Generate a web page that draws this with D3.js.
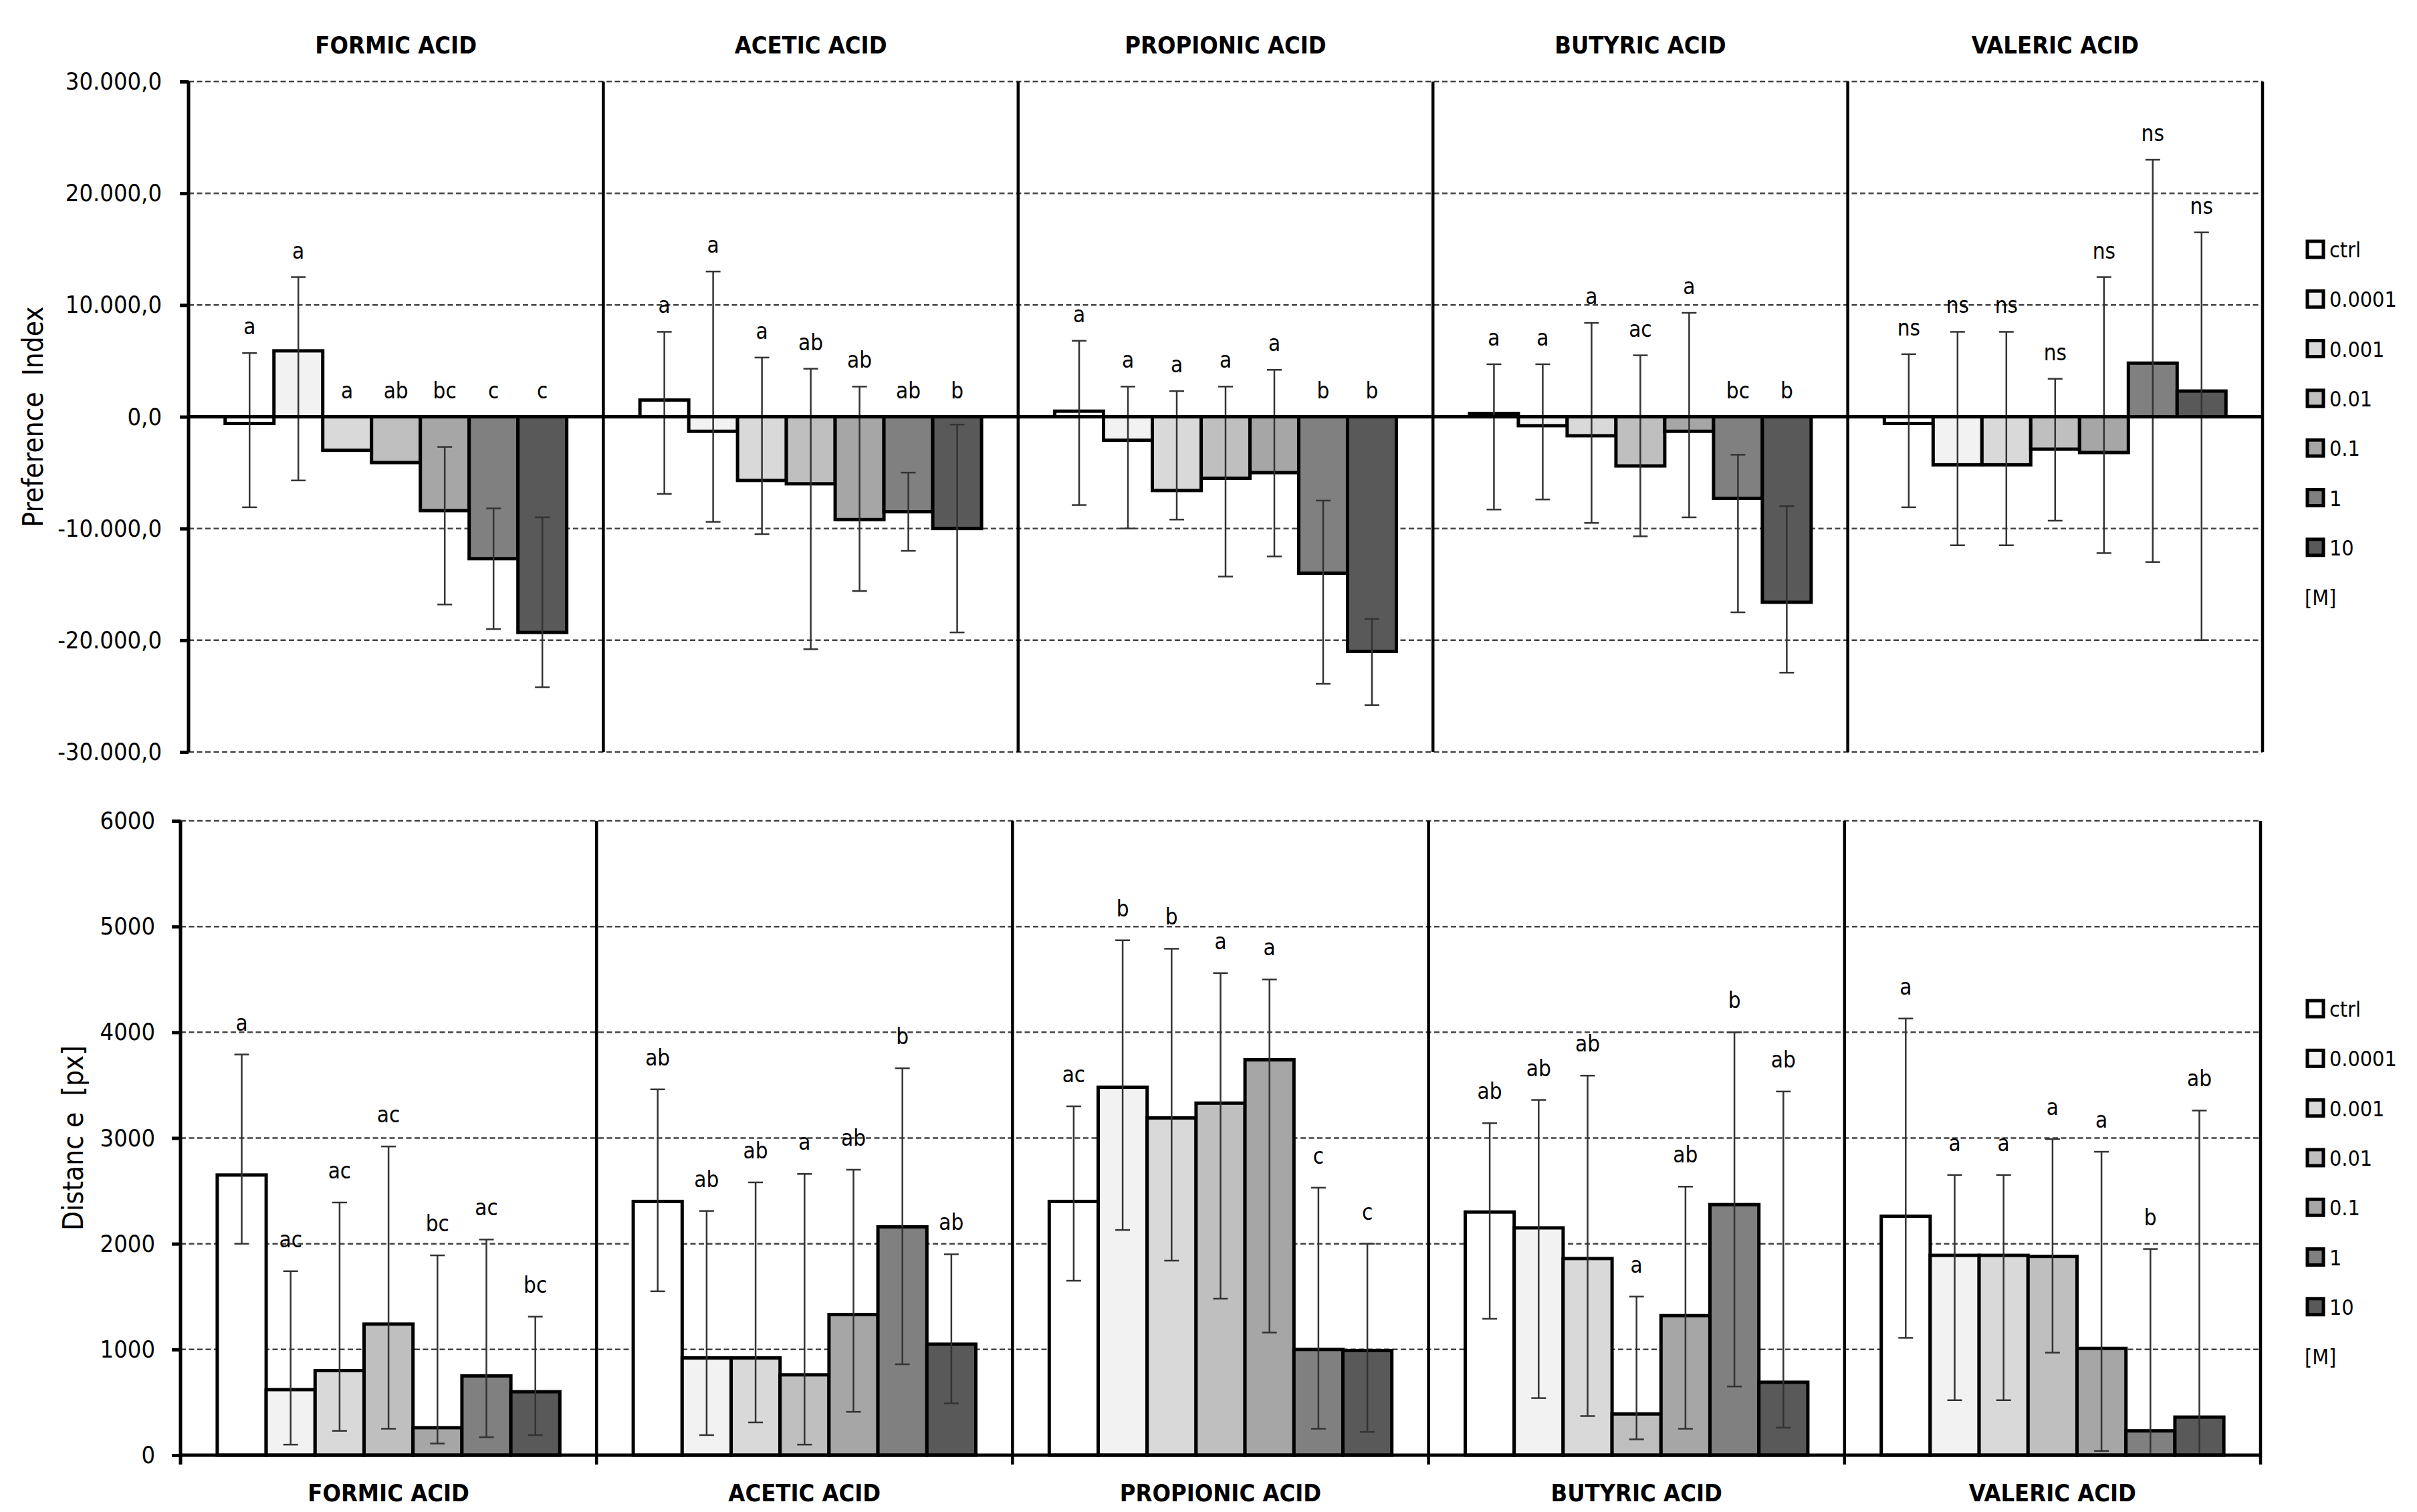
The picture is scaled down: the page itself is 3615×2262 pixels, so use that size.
<!DOCTYPE html>
<html>
<head>
<meta charset="utf-8">
<script src="https://cdn.jsdelivr.net/npm/d3@7"></script>
<style>
body { margin: 0; background: #fff; }
text { font-family: 'DejaVu Sans Condensed', 'DejaVu Sans', sans-serif; fill: #000; }
</style>
</head>
<body>
<svg id="chart" width="3615" height="2262"></svg>
<script>
const acids = ["FORMIC ACID", "ACETIC ACID", "PROPIONIC ACID", "BUTYRIC ACID", "VALERIC ACID"];
const concs = ["ctrl", "0.0001", "0.001", "0.01", "0.1", "1", "10"];
const fills = ["#ffffff", "#f2f2f2", "#d9d9d9", "#bfbfbf", "#a6a6a6", "#808080", "#595959"];

// preference index (top chart), one row per acid, one value per concentration
const prefMean = [
	[-600, 5900, -3000, -4100, -8400, -12700, -19300],
	[1500, -1300, -5700, -6000, -9200, -8500, -10000],
	[500, -2100, -6600, -5500, -5000, -14000, -21000],
	[300, -800, -1700, -4400, -1300, -7300, -16600],
	[-600, -4300, -4300, -2900, -3200, 4800, 2300]
];
const prefHi = [
	[5700, 12500, null, null, -2700, -8200, -9000],
	[7600, 13000, 5300, 4300, 2700, -5000, -700],
	[6800, 2700, 2300, 2700, 4200, -7500, -18100],
	[4700, 4700, 8400, 5500, 9300, -3400, -8000],
	[5600, 7600, 7600, 3400, 12500, 23000, 16500]
];
const prefLo = [
	[-8100, -5700, null, null, -16800, -19000, -24200],
	[-6900, -9400, -10500, -20800, -15600, -12000, -19300],
	[-7900, -10000, -9200, -14300, -12500, -23900, -25800],
	[-8300, -7400, -9500, -10700, -9000, -17500, -22900],
	[-8100, -11500, -11500, -9300, -12200, -13000, -20000]
];
const prefSig = [
	["a", "a", "a", "ab", "bc", "c", "c"],
	["a", "a", "a", "ab", "ab", "ab", "b"],
	["a", "a", "a", "a", "a", "b", "b"],
	["a", "a", "a", "ac", "a", "bc", "b"],
	["ns", "ns", "ns", "ns", "ns", "ns", "ns"]
];
const prefTicks = [-30000, -20000, -10000, 0, 10000, 20000, 30000];

// distance in px (bottom chart)
const distMean = [
	[2650, 620, 800, 1240, 260, 750, 600],
	[2400, 920, 920, 760, 1330, 2160, 1050],
	[2400, 3480, 3190, 3330, 3740, 1000, 990],
	[2300, 2150, 1860, 390, 1320, 2370, 690],
	[2260, 1890, 1890, 1880, 1010, 230, 360]
];
const distHi = [
	[3790, 1740, 2390, 2920, 1890, 2040, 1310],
	[3460, 2310, 2580, 2660, 2700, 3660, 1900],
	[3300, 4870, 4790, 4560, 4500, 2530, 2000],
	[3140, 3360, 3590, 1500, 2540, 4000, 3440],
	[4130, 2650, 2650, 2990, 2870, 1950, 3260]
];
const distLo = [
	[2000, 100, 230, 250, 110, 170, 190],
	[1550, 190, 310, 100, 410, 860, 490],
	[1650, 2130, 1840, 1480, 1160, 250, 220],
	[1290, 540, 370, 150, 250, 650, 260],
	[1110, 520, 520, 970, 40, 0, 0]
];
const distSig = [
	["a", "ac", "ac", "ac", "bc", "ac", "bc"],
	["ab", "ab", "ab", "a", "ab", "b", "ab"],
	["ac", "b", "b", "a", "a", "c", "c"],
	["ab", "ab", "ab", "a", "ab", "b", "ab"],
	["a", "a", "a", "a", "a", "b", "ab"]
];
const distTicks = [0, 1000, 2000, 3000, 4000, 5000, 6000];

const svg = d3.select("#chart");
const de = d3.formatLocale({ decimal: ",", thousands: ".", grouping: [3], currency: ["", ""], minus: "-" });

function drawChart(o) {
	const g = svg.append("g");
	const panel = d3.scaleBand().domain(acids).range([o.x0, o.x1]);
	const bar = d3.scaleBand().domain(concs).range([0, panel.bandwidth()]).paddingOuter(0.75);
	const y = o.y;
	const yMin = y.domain()[0], yMax = y.domain()[1];

	// dashed gridlines
	g.selectAll(".grid")
		.data(o.ticks.filter(function (t) { return t != 0; }))
		.enter().append("line")
		.attr("x1", o.x0).attr("x2", o.x1)
		.attr("y1", function (d) { return y(d); })
		.attr("y2", function (d) { return y(d); })
		.attr("stroke", "#444").attr("stroke-width", 2.5)
		.attr("stroke-dasharray", "8,4.5");

	// bars
	acids.forEach(function (acid, i) {
		const pg = g.append("g").attr("transform", "translate(" + panel(acid) + ",0)");
		const rows = concs.map(function (c, j) {
			return { c: c, j: j, v: o.mean[i][j], hi: o.hi[i][j], lo: o.lo[i][j], sig: o.sig[i][j] };
		});
		pg.selectAll("rect")
			.data(rows)
			.enter().append("rect")
			.attr("x", function (d) { return bar(d.c); })
			.attr("width", bar.bandwidth())
			.attr("y", function (d) { return y(Math.max(d.v, 0)); })
			.attr("height", function (d) { return Math.abs(y(d.v) - y(0)); })
			.attr("fill", function (d) { return fills[d.j]; })
			.attr("stroke", "#000").attr("stroke-width", 5);

		// error bars
		const eb = pg.selectAll(".err")
			.data(rows.filter(function (d) { return d.hi != null; }))
			.enter().append("g")
			.attr("stroke", "#333").attr("stroke-width", 2.5);
		eb.append("line")
			.attr("x1", function (d) { return bar(d.c) + bar.bandwidth() / 2; })
			.attr("x2", function (d) { return bar(d.c) + bar.bandwidth() / 2; })
			.attr("y1", function (d) { return y(d.hi); })
			.attr("y2", function (d) { return y(d.lo); });
		[["hi"], ["lo"]].forEach(function (k) {
			eb.append("line")
				.attr("x1", function (d) { return bar(d.c) + bar.bandwidth() / 2 - 11; })
				.attr("x2", function (d) { return bar(d.c) + bar.bandwidth() / 2 + 11; })
				.attr("y1", function (d) { return y(d[k[0]]); })
				.attr("y2", function (d) { return y(d[k[0]]); });
		});

		// significance letters
		pg.selectAll(".sig")
			.data(rows)
			.enter().append("text")
			.attr("x", function (d) { return bar(d.c) + bar.bandwidth() / 2; })
			.attr("y", function (d) {
				const top = Math.max(d.v, 0, d.hi == null ? 0 : d.hi);
				return y(top) - o.sigGap;
			})
			.attr("text-anchor", "middle")
			.attr("font-size", 33)
			.text(function (d) { return d.sig; });

		// acid title
		g.append("text")
			.attr("x", panel(acid) + panel.bandwidth() / 2)
			.attr("y", o.titleY)
			.attr("text-anchor", "middle")
			.attr("font-size", 36).attr("font-weight", "bold")
			.text(acid);
	});

	// zero line
	g.append("line")
		.attr("x1", o.x0).attr("x2", o.x1)
		.attr("y1", y(0)).attr("y2", y(0))
		.attr("stroke", "#000").attr("stroke-width", 5);

	// panel separators
	const seps = acids.slice(1).map(function (a) { return panel(a); }).concat([o.x1]);
	g.selectAll(".sep")
		.data(seps)
		.enter().append("line")
		.attr("x1", function (d) { return d; }).attr("x2", function (d) { return d; })
		.attr("y1", y(yMax)).attr("y2", y(yMin) + o.sepExtra)
		.attr("stroke", "#000").attr("stroke-width", 4.5);

	// y axis
	const ax = g.append("g")
		.attr("transform", "translate(" + o.x0 + ",0)")
		.call(d3.axisLeft(y).tickValues(o.ticks).tickFormat(o.fmt)
			.tickSizeInner(13).tickSizeOuter(0).tickPadding(o.tickPad));
	ax.select(".domain").attr("stroke", "#000").attr("stroke-width", 5)
		.attr("d", "M0," + y(yMax) + "V" + (y(yMin) + o.sepExtra));
	ax.selectAll(".tick line").attr("stroke", "#000").attr("stroke-width", 5);
	ax.selectAll(".tick text")
		.attr("font-size", 36)
		.attr("font-family", "'DejaVu Sans Condensed', 'DejaVu Sans', sans-serif")
		.attr("fill", "#000");

	// y title
	g.append("text")
		.attr("transform", "translate(" + o.titleX + "," + ((y(yMin) + y(yMax)) / 2) + ") rotate(-90)")
		.attr("text-anchor", "middle")
		.attr("font-size", 42)
		.style("white-space", "pre")
		.text(o.yTitle);

	// legend
	const lg = g.append("g");
	const items = lg.selectAll(".item")
		.data(concs)
		.enter().append("g")
		.attr("transform", function (d, j) { return "translate(3449," + (o.legendY + j * 74.3) + ")"; });
	items.append("rect")
		.attr("x", 2).attr("y", -12).attr("width", 24).attr("height", 24)
		.attr("fill", function (d, j) { return fills[j]; })
		.attr("stroke", "#000").attr("stroke-width", 5);
	items.append("text")
		.attr("x", 35).attr("y", 12)
		.attr("font-family", "'DejaVu Sans', sans-serif")
		.attr("font-size", 32)
		.text(function (d) { return d; });
	lg.append("text")
		.attr("x", 3447).attr("y", o.legendY + 7 * 74.3 + 12)
		.attr("font-family", "'DejaVu Sans', sans-serif")
		.attr("font-size", 32)
		.text("[M]");
}

drawChart({
	x0: 282, x1: 3384,
	y: d3.scaleLinear().domain([-30000, 30000]).range([1125, 122]),
	mean: prefMean, hi: prefHi, lo: prefLo, sig: prefSig,
	ticks: prefTicks, fmt: de.format(",.1f"), tickPad: 27,
	sigGap: 28, sepExtra: 0, titleY: 80, titleX: 64,
	yTitle: "Preference  Index", legendY: 373
});

drawChart({
	x0: 270, x1: 3381,
	y: d3.scaleLinear().domain([0, 6000]).range([2177, 1228]),
	mean: distMean, hi: distHi, lo: distLo, sig: distSig,
	ticks: distTicks, fmt: d3.format("d"), tickPad: 25,
	sigGap: 36, sepExtra: 14, titleY: 2246, titleX: 124,
	yTitle: "Distanc e  [px]", legendY: 1509
});
</script>
</body>
</html>
